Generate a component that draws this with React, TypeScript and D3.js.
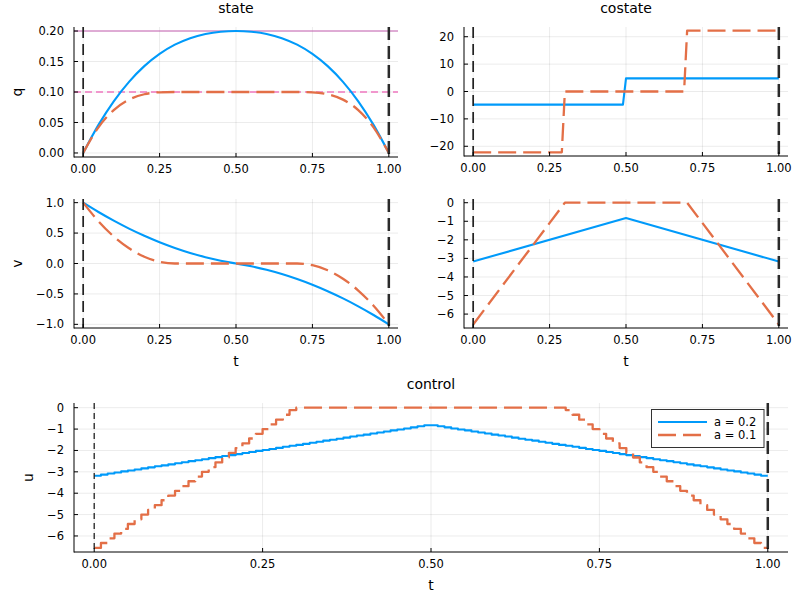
import { useEffect, useRef } from 'react';
import * as d3 from 'd3';

// state grid (coarse)
const tState = [0, 0.05, 0.1, 0.15, 0.2, 0.25, 0.3, 0.35, 0.4, 0.45, 0.5, 0.55, 0.6, 0.65, 0.7, 0.75, 0.8, 0.85, 0.9, 0.95, 1];
const qA02 = [0, 0.0461, 0.0848, 0.1167, 0.1424, 0.1625, 0.1776, 0.1883, 0.1952, 0.1989, 0.2, 0.1989, 0.1952, 0.1883, 0.1776, 0.1625, 0.1424, 0.1167, 0.0848, 0.0461, 0];
const qA01 = [0, 0.0421, 0.0704, 0.0875, 0.0963, 0.0995, 0.1, 0.1, 0.1, 0.1, 0.1, 0.1, 0.1, 0.1, 0.1, 0.0995, 0.0963, 0.0875, 0.0704, 0.0421, 0];
const vA02 = [1, 0.846, 0.704, 0.574, 0.456, 0.35, 0.256, 0.174, 0.104, 0.046, 0, -0.046, -0.104, -0.174, -0.256, -0.35, -0.456, -0.574, -0.704, -0.846, -1];
const vA01 = [1, 0.694, 0.444, 0.25, 0.111, 0.028, 0, 0, 0, 0, 0, 0, 0, 0, 0, -0.028, -0.111, -0.25, -0.444, -0.694, -1];

// costates
const tLamQ02 = [0, 0.49, 0.5, 1];
const lamQ02 = [-4.8, -4.8, 4.8, 4.8];
const tLamQ01 = [0, 0.29, 0.3, 0.69, 0.7, 1];
const lamQ01 = [-22.2, -22.2, 0, 0, 22.2, 22.2];
const tLamV02 = [0, 0.5, 1];
const lamV02 = [-3.17, -0.82, -3.17];
const tLamV01 = [0, 0.3, 0.7, 1];
const lamV01 = [-6.56, 0, 0, -6.56];

// control, one value per interval of the 100-step grid
const uA02 = [
  -3.18, -3.13, -3.08, -3.03, -2.98, -2.94, -2.89, -2.84, -2.79, -2.74,
  -2.70, -2.65, -2.60, -2.55, -2.50, -2.46, -2.41, -2.36, -2.31, -2.26,
  -2.22, -2.17, -2.12, -2.07, -2.02, -1.98, -1.93, -1.88, -1.83, -1.78,
  -1.74, -1.69, -1.64, -1.59, -1.54, -1.50, -1.45, -1.40, -1.35, -1.30,
  -1.26, -1.21, -1.16, -1.11, -1.06, -1.02, -0.97, -0.92, -0.87, -0.82,
  -0.82, -0.87, -0.92, -0.97, -1.02, -1.06, -1.11, -1.16, -1.21, -1.26,
  -1.30, -1.35, -1.40, -1.45, -1.50, -1.54, -1.59, -1.64, -1.69, -1.74,
  -1.78, -1.83, -1.88, -1.93, -1.98, -2.02, -2.07, -2.12, -2.17, -2.22,
  -2.26, -2.31, -2.36, -2.41, -2.46, -2.50, -2.55, -2.60, -2.65, -2.70,
  -2.74, -2.79, -2.84, -2.89, -2.94, -2.98, -3.03, -3.08, -3.13, -3.18,
];
const uA01 = [
  -6.56, -6.33, -6.11, -5.89, -5.67, -5.44, -5.22, -5.00, -4.78, -4.56,
  -4.33, -4.11, -3.89, -3.67, -3.44, -3.22, -3.00, -2.78, -2.56, -2.33,
  -2.11, -1.89, -1.67, -1.44, -1.22, -1.00, -0.78, -0.56, -0.33, -0.11,
  0, 0, 0, 0, 0, 0, 0, 0, 0, 0,
  0, 0, 0, 0, 0, 0, 0, 0, 0, 0,
  0, 0, 0, 0, 0, 0, 0, 0, 0, 0,
  0, 0, 0, 0, 0, 0, 0, 0, 0, 0,
  -0.11, -0.33, -0.56, -0.78, -1.00, -1.22, -1.44, -1.67, -1.89, -2.11,
  -2.33, -2.56, -2.78, -3.00, -3.22, -3.44, -3.67, -3.89, -4.11, -4.33,
  -4.56, -4.78, -5.00, -5.22, -5.44, -5.67, -5.89, -6.11, -6.33, -6.56,
];
const tGrid = d3.range(uA02.length + 1).map((i) => i / uA02.length);

const xTicks = [0, 0.25, 0.5, 0.75, 1];
const qTicks = [0, 0.05, 0.1, 0.15, 0.2];
const lamQTicks = [-20, -10, 0, 10, 20];
const vTicks = [-1, -0.5, 0, 0.5, 1];
const negTicks = [-6, -5, -4, -3, -2, -1, 0];
const qBounds = [0.2, 0.1];
const legendLabels = ['a = 0.2', 'a = 0.1'];

const BLUE = '#009AFA';
const ORANGE = '#E36F47';
const FONT = 'DejaVu Sans, sans-serif';

type Sel = d3.Selection<SVGGElement, unknown, null, undefined>;

interface PanelOpts {
  left: number;
  right: number;
  top: number;
  bottom: number;
  yDomain: [number, number];
  yTicks: number[];
  yFmt: string;
  title?: string;
  ylabel?: string;
  ylabelX?: number;
  xlabel?: boolean;
}

function drawPanel(root: Sel, o: PanelOpts) {
  const x = d3.scaleLinear().domain([-0.03, 1.03]).range([o.left, o.right]);
  const y = d3.scaleLinear().domain(o.yDomain).range([o.bottom, o.top]);
  const g = root.append('g');

  // grid
  xTicks.forEach((t) => {
    g.append('line')
      .attr('x1', x(t)).attr('x2', x(t))
      .attr('y1', o.top).attr('y2', o.bottom)
      .attr('stroke', '#000').attr('stroke-opacity', 0.1).attr('stroke-width', 0.8);
  });
  o.yTicks.forEach((v) => {
    g.append('line')
      .attr('x1', o.left).attr('x2', o.right)
      .attr('y1', y(v)).attr('y2', y(v))
      .attr('stroke', '#000').attr('stroke-opacity', 0.1).attr('stroke-width', 0.8);
  });

  const series = g.append('g');
  const overlay = g.append('g');

  // axes
  const ax = g.append('g');
  ax.append('line')
    .attr('x1', o.left).attr('x2', o.left).attr('y1', o.top).attr('y2', o.bottom + 0.5)
    .attr('stroke', '#000').attr('stroke-width', 1);
  ax.append('line')
    .attr('x1', o.left).attr('x2', o.right).attr('y1', o.bottom).attr('y2', o.bottom)
    .attr('stroke', '#000').attr('stroke-width', 1);
  xTicks.forEach((t) => {
    ax.append('line')
      .attr('x1', x(t)).attr('x2', x(t)).attr('y1', o.bottom).attr('y2', o.bottom - 4)
      .attr('stroke', '#000').attr('stroke-width', 1);
    ax.append('text')
      .attr('x', x(t)).attr('y', o.bottom + 16)
      .attr('text-anchor', 'middle')
      .attr('font-size', '11.5px').attr('font-family', FONT).attr('fill', '#000')
      .text(d3.format('.2f')(t));
  });
  o.yTicks.forEach((v) => {
    ax.append('line')
      .attr('x1', o.left).attr('x2', o.left + 4).attr('y1', y(v)).attr('y2', y(v))
      .attr('stroke', '#000').attr('stroke-width', 1);
    ax.append('text')
      .attr('x', o.left - 10).attr('y', y(v)).attr('dy', '0.35em')
      .attr('text-anchor', 'end')
      .attr('font-size', '11.5px').attr('font-family', FONT).attr('fill', '#000')
      .text(d3.format(o.yFmt)(v));
  });

  if (o.title) {
    g.append('text')
      .attr('x', (o.left + o.right) / 2).attr('y', o.top - 14)
      .attr('text-anchor', 'middle')
      .attr('font-size', '14px').attr('font-family', FONT).attr('fill', '#000')
      .text(o.title);
  }
  if (o.ylabel) {
    const cx = o.ylabelX ?? 17;
    const cy = (o.top + o.bottom) / 2;
    g.append('text')
      .attr('transform', `translate(${cx},${cy}) rotate(-90)`)
      .attr('dy', '0.35em')
      .attr('text-anchor', 'middle')
      .attr('font-size', '14px').attr('font-family', FONT).attr('fill', '#000')
      .text(o.ylabel);
  }
  if (o.xlabel) {
    g.append('text')
      .attr('x', (o.left + o.right) / 2).attr('y', o.bottom + 38)
      .attr('text-anchor', 'middle')
      .attr('font-size', '14px').attr('font-family', FONT).attr('fill', '#000')
      .text('t');
  }

  return { x, y, series, overlay };
}

function addLine(
  p: { x: d3.ScaleLinear<number, number>; y: d3.ScaleLinear<number, number>; series: Sel },
  ts: number[],
  vs: number[],
  color: string,
  dashed: boolean,
  curve: d3.CurveFactory = d3.curveLinear,
) {
  const pts = ts.map((t, i) => [t, vs[i]] as [number, number]);
  const line = d3.line<[number, number]>()
    .x((d) => p.x(d[0]))
    .y((d) => p.y(d[1]))
    .curve(curve);
  p.series.append('path')
    .datum(pts)
    .attr('d', line)
    .attr('fill', 'none')
    .attr('stroke', color)
    .attr('stroke-width', dashed ? 2.3 : 2.1)
    .attr('stroke-dasharray', dashed ? '18,7' : null)
    .attr('stroke-linejoin', 'round');
}

function addVLines(
  p: { x: d3.ScaleLinear<number, number>; overlay: Sel },
  top: number,
  bottom: number,
  thinLeft = false,
) {
  p.overlay.append('line')
    .attr('x1', p.x(0)).attr('x2', p.x(0)).attr('y1', top).attr('y2', bottom)
    .attr('stroke', '#222').attr('stroke-width', thinLeft ? 1.3 : 1.7)
    .attr('stroke-dasharray', thinLeft ? '6,4' : '11,6');
  p.overlay.append('line')
    .attr('x1', p.x(1)).attr('x2', p.x(1)).attr('y1', top).attr('y2', bottom)
    .attr('stroke', '#2a2a2a').attr('stroke-width', 2.5)
    .attr('stroke-dasharray', '13,6');
}

export default function App() {
  const svgRef = useRef<SVGSVGElement>(null);

  useEffect(() => {
    if (!svgRef.current) return;
    const svg = d3.select(svgRef.current);
    svg.selectAll('*').remove();
    const root = svg.append('g') as Sel;

    // state: q
    const p1 = drawPanel(root, {
      left: 74, right: 398, top: 27, bottom: 157,
      yDomain: [-0.0066, 0.2066], yTicks: qTicks, yFmt: '.2f',
      title: 'state', ylabel: 'q', ylabelX: 17,
    });
    qBounds.forEach((b, i) => {
      p1.series.append('line')
        .attr('x1', 74).attr('x2', 398)
        .attr('y1', p1.y(b)).attr('y2', p1.y(b))
        .attr('stroke', i === 0 ? '#c862b4' : '#ef78c0')
        .attr('stroke-width', i === 0 ? 1.2 : 1.5)
        .attr('stroke-dasharray', i === 0 ? null : '7,4');
    });
    addLine(p1, tState, qA02, BLUE, false, d3.curveMonotoneX);
    addLine(p1, tState, qA01, ORANGE, true, d3.curveMonotoneX);
    addVLines(p1, 27, 157);

    // costate: lambda_q
    const p2 = drawPanel(root, {
      left: 464, right: 788, top: 27, bottom: 156,
      yDomain: [-23.55, 23.55], yTicks: lamQTicks, yFmt: 'd',
      title: 'costate',
    });
    addLine(p2, tLamQ02, lamQ02, BLUE, false);
    addLine(p2, tLamQ01, lamQ01, ORANGE, true);
    addVLines(p2, 27, 156);

    // state: v
    const p3 = drawPanel(root, {
      left: 74, right: 398, top: 199, bottom: 328,
      yDomain: [-1.06, 1.06], yTicks: vTicks, yFmt: '.1f',
      ylabel: 'v', ylabelX: 17, xlabel: true,
    });
    addLine(p3, tState, vA02, BLUE, false, d3.curveMonotoneX);
    addLine(p3, tState, vA01, ORANGE, true, d3.curveMonotoneX);
    addVLines(p3, 199, 328);

    // costate: lambda_v
    const p4 = drawPanel(root, {
      left: 464, right: 788, top: 199, bottom: 328,
      yDomain: [-6.75, 0.2], yTicks: negTicks, yFmt: 'd',
      xlabel: true,
    });
    addLine(p4, tLamV02, lamV02, BLUE, false);
    addLine(p4, tLamV01, lamV01, ORANGE, true);
    addVLines(p4, 199, 328);

    // control
    const p5 = drawPanel(root, {
      left: 74, right: 788, top: 403, bottom: 552,
      yDomain: [-6.75, 0.22], yTicks: negTicks, yFmt: 'd',
      title: 'control', ylabel: 'u', ylabelX: 28, xlabel: true,
    });
    addLine(p5, tGrid, [...uA02, uA02[uA02.length - 1]], BLUE, false, d3.curveStepAfter);
    addLine(p5, tGrid, [...uA01, uA01[uA01.length - 1]], ORANGE, true, d3.curveStepAfter);
    addVLines(p5, 403, 552, true);

    // legend
    const lg = root.append('g');
    lg.append('rect')
      .attr('x', 651.5).attr('y', 409.5).attr('width', 112.5).attr('height', 38)
      .attr('fill', '#fff').attr('stroke', '#333').attr('stroke-width', 1);
    legendLabels.forEach((label, i) => {
      const ly = 422 + i * 13;
      lg.append('line')
        .attr('x1', 658).attr('x2', 707).attr('y1', ly).attr('y2', ly)
        .attr('stroke', i === 0 ? BLUE : ORANGE)
        .attr('stroke-width', i === 0 ? 2.1 : 2.3)
        .attr('stroke-dasharray', i === 0 ? null : '18,7');
      lg.append('text')
        .attr('x', 714).attr('y', ly).attr('dy', '0.35em')
        .attr('font-size', '11.5px').attr('font-family', FONT).attr('fill', '#000')
        .text(label);
    });
  }, []);

  return (
    <svg
      ref={svgRef}
      width={800}
      height={600}
      style={{ position: 'absolute', left: 0, top: 0, background: '#fff' }}
    />
  );
}
